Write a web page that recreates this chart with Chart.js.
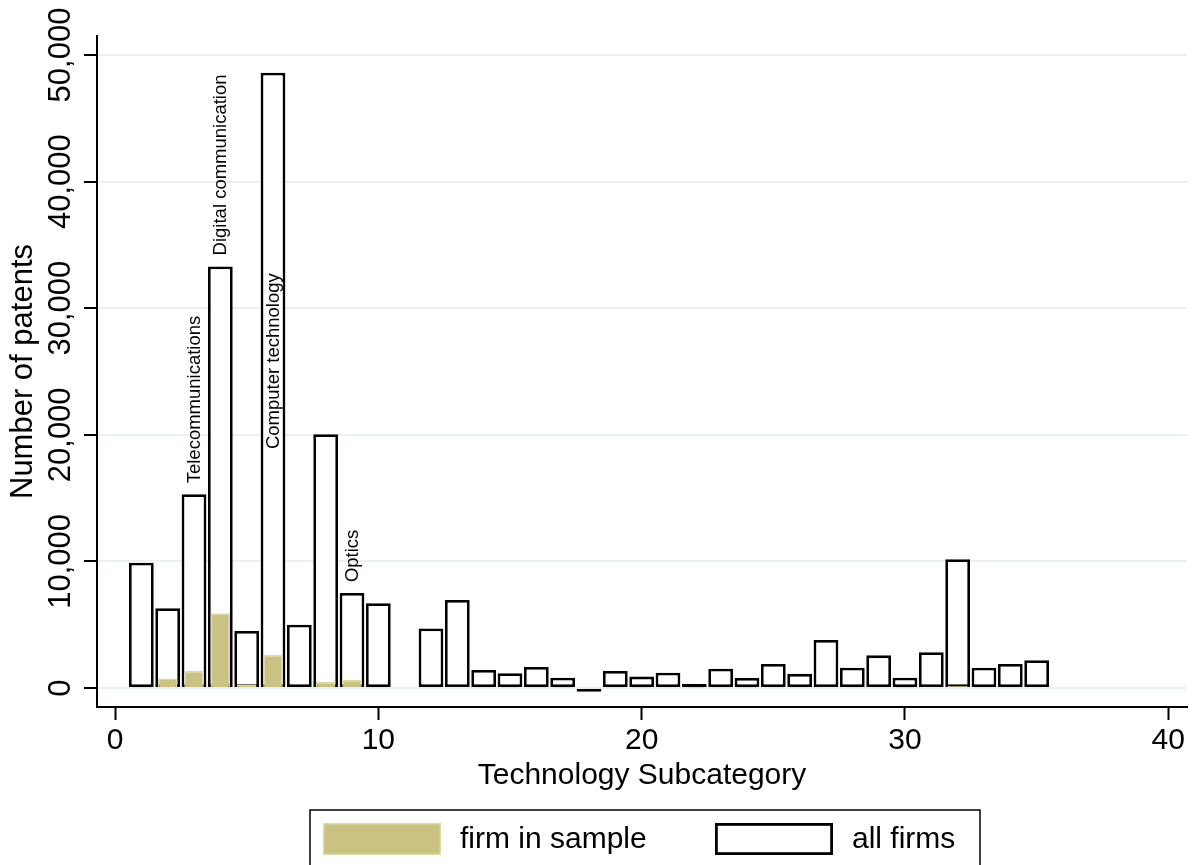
<!DOCTYPE html>
<html>
<head>
<title>Patents by Technology Subcategory</title>
<script src="https://cdn.jsdelivr.net/npm/chart.js"></script>
<style>
  body {
  margin: 0;
  padding: 0;
  background-color: #fff;
}
canvas {
  display: block;
}
</style>
</head>
<body>
<canvas id="chart" width="1195" height="865"></canvas>

<script>
// technology subcategories (11 is empty)
const subcats = [1, 2, 3, 4, 5, 6, 7, 8, 9, 10,
  12, 13, 14, 15, 16, 17, 18, 19, 20, 21, 22, 23, 24, 25, 26, 27, 28, 29, 30, 31, 32, 33, 34, 35];

const allFirms = [9900, 6300, 15300, 33300, 4500, 48600, 5000, 20050, 7500, 6700,
  4700, 6950, 1420, 1160, 1660, 815, -300, 1340, 900, 1215, 315, 1530, 790, 1900,
  1120, 3800, 1600, 2580, 820, 2820, 10170, 1600, 1900, 2190];

const firmInSample = [50, 750, 1340, 5900, 250, 2600, 0, 470, 630, 60,
  80, 100, 40, 40, 50, 30, 0, 40, 30, 40, 20, 50, 30, 60,
  40, 100, 50, 80, 30, 90, 150, 60, 60, 70];

const xTicks = [0, 10, 20, 30, 40];
const yTicks = [0, 10000, 20000, 30000, 40000, 50000];

// bar labels: subcategory, anchor value, text
const noteX = [3, 4, 6, 9];
const noteY = [15300, 33300, 18000, 7500];
const noteText = ['Telecommunications', 'Digital communication', 'Computer technology', 'Optics'];

const FONT = '"Liberation Sans", Arial, Helvetica, sans-serif';
const KHAKI = '#cac283';
const KHAKI_EDGE = '#ddd8a6';

Chart.defaults.font.family = FONT;
Chart.defaults.color = '#000';

const yTickLabels = {
  id: 'yTickLabels',
  afterDraw(chart) {
    const ctx = chart.ctx;
    const y = chart.scales.y;
    ctx.save();
    ctx.fillStyle = '#000';
    ctx.font = '31px ' + FONT;
    ctx.textAlign = 'center';
    ctx.textBaseline = 'alphabetic';
    yTicks.forEach(v => {
      ctx.save();
      ctx.translate(70, y.getPixelForValue(v));
      ctx.rotate(-Math.PI / 2);
      ctx.fillText(v.toLocaleString('en-US'), 0, 0);
      ctx.restore();
    });
    ctx.restore();
  }
};

const barNotes = {
  id: 'barNotes',
  afterDatasetsDraw(chart) {
    const ctx = chart.ctx;
    const {x, y} = chart.scales;
    ctx.save();
    ctx.fillStyle = '#000';
    ctx.font = '18.5px ' + FONT;
    ctx.textAlign = 'left';
    ctx.textBaseline = 'middle';
    noteText.forEach((t, i) => {
      ctx.save();
      ctx.translate(x.getPixelForValue(noteX[i]) + 1, y.getPixelForValue(noteY[i]) - 11);
      ctx.rotate(-Math.PI / 2);
      ctx.fillText(t, 0, 0);
      ctx.restore();
    });
    ctx.restore();
  }
};

// stata style legend box under the plot
const boxLegend = {
  id: 'boxLegend',
  afterDraw(chart) {
    const ctx = chart.ctx;
    const ds = chart.data.datasets;
    const keys = [{x: 323, text: 460}, {x: 715, text: 852}];
    ctx.save();
    ctx.strokeStyle = '#000';
    ctx.lineWidth = 1.5;
    ctx.strokeRect(310, 810, 670, 80);
    ctx.font = '30px ' + FONT;
    ctx.textBaseline = 'middle';
    ctx.textAlign = 'left';
    ds.forEach((d, i) => {
      const k = keys[i];
      ctx.fillStyle = d.backgroundColor;
      ctx.fillRect(k.x, 823, 118, 32);
      ctx.strokeStyle = d.borderColor;
      ctx.lineWidth = d.borderWidth;
      ctx.strokeRect(k.x + d.borderWidth / 2, 823 + d.borderWidth / 2, 118 - d.borderWidth, 32 - d.borderWidth);
      ctx.fillStyle = '#000';
      ctx.fillText(d.label, k.text, 840);
    });
    ctx.restore();
  }
};

new Chart(document.getElementById('chart'), {
  type: 'bar',
  data: {
    datasets: [{
      label: 'firm in sample',
      data: subcats.map((s, i) => ({x: s, y: firmInSample[i]})),
      backgroundColor: KHAKI,
      borderColor: KHAKI_EDGE,
      borderWidth: 1.5,
      borderSkipped: 'start',
      grouped: false,
      categoryPercentage: 1,
      barPercentage: 0.74
    }, {
      label: 'all firms',
      data: subcats.map((s, i) => ({x: s, y: allFirms[i]})),
      backgroundColor: '#fff',
      borderColor: '#000',
      borderWidth: 2.8,
      borderSkipped: false,
      grouped: false,
      categoryPercentage: 1,
      barPercentage: 0.94
    }]
  },
  options: {
    responsive: false,
    animation: false,
    layout: { padding: { top: 36, right: 8, left: 0, bottom: 0 } },
    plugins: {
      legend: { display: false },
      tooltip: { enabled: false }
    },
    scales: {
      x: {
        type: 'linear',
        offset: false,
        min: -0.684,
        max: 40.71,
        afterBuildTicks: s => { s.ticks = xTicks.map(v => ({value: v})); },
        afterFit: s => { s.height = 158; },
        grid: {
          offset: false,
          drawOnChartArea: false,
          drawTicks: true,
          tickLength: 13,
          tickColor: '#000',
          tickWidth: 2
        },
        border: { display: true, color: '#000', width: 2 },
        ticks: {
          font: { size: 30 },
          color: '#000',
          padding: 3,
          maxRotation: 0,
          autoSkip: false
        },
        title: {
          display: true,
          text: 'Technology Subcategory',
          font: { size: 30 },
          color: '#000',
          padding: { top: 0, bottom: 71 }
        }
      },
      y: {
        type: 'linear',
        min: -1500,
        max: 51500,
        afterBuildTicks: s => { s.ticks = yTicks.map(v => ({value: v})); },
        afterFit: s => { s.width = 97; },
        grid: {
          color: '#eaf1f3',
          lineWidth: 2,
          drawTicks: true,
          tickLength: 13,
          tickColor: '#000',
          tickWidth: 2
        },
        border: { display: true, color: '#000', width: 2 },
        ticks: { display: false },
        title: {
          display: true,
          text: 'Number of patents',
          font: { size: 31 },
          color: '#000',
          padding: { top: 5, bottom: 0 }
        }
      }
    }
  },
  plugins: [yTickLabels, barNotes, boxLegend]
});
</script>
</body>
</html>
